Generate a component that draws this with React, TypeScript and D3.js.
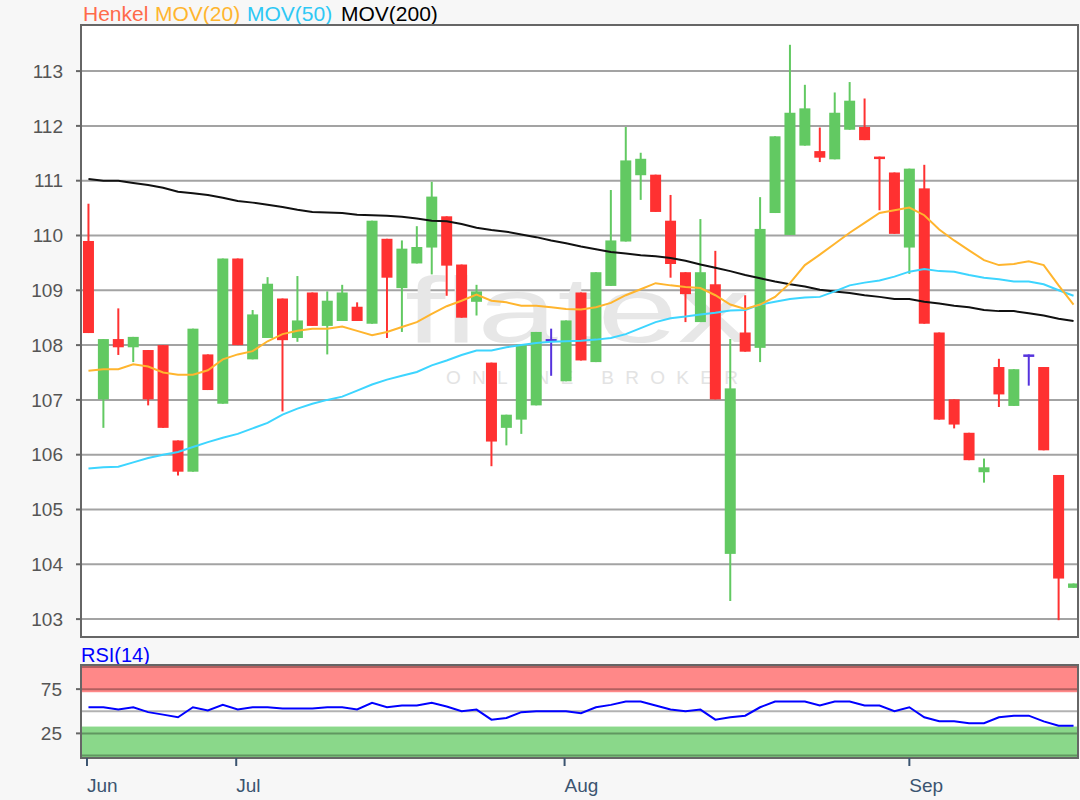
import React from 'react';
import * as d3 from 'd3';

// ---- Data ----
const opens = [109.90,107.01,108.11,107.96,107.91,108.00,106.26,105.69,107.83,106.93,109.58,107.74,108.13,108.85,108.13,108.96,108.35,108.44,108.70,108.39,109.94,109.04,109.49,109.78,110.35,109.47,108.79,107.68,106.49,106.64,106.90,108.11,107.34,108.96,107.69,109.08,109.89,111.10,111.11,110.27,109.33,108.42,109.11,104.19,108.23,107.95,110.41,110.01,111.64,111.54,111.39,111.93,111.98,111.44,111.15,109.78,110.86,108.23,107.01,106.40,105.68,107.60,106.89,107.83,107.60,105.63,103.57];
const highs = [110.58,108.11,108.67,108.15,107.91,108.00,106.26,108.30,107.83,109.58,109.58,108.64,109.24,108.85,109.26,108.96,108.98,109.10,108.78,110.27,109.94,109.91,110.17,110.98,110.35,109.47,109.10,107.68,106.73,108.01,108.24,108.30,108.45,108.96,109.33,110.83,111.98,111.51,111.11,110.74,109.33,110.30,109.72,108.11,108.91,110.70,111.81,113.48,112.75,111.97,112.61,112.80,112.50,111.44,111.15,111.22,111.29,108.23,107.01,106.40,105.93,107.75,107.56,107.83,107.60,105.63,103.65];
const lows = [108.22,106.49,107.82,107.69,106.90,106.49,105.62,105.69,107.18,106.93,108.00,107.74,108.13,106.79,108.06,108.35,107.83,108.44,108.44,108.39,108.13,108.24,109.49,109.29,108.90,108.50,108.54,105.79,106.17,106.38,106.90,107.44,107.34,107.72,107.69,109.08,109.89,110.65,110.43,109.23,108.42,108.42,107.01,103.33,107.88,107.69,110.41,110.01,111.64,111.34,111.39,111.93,111.74,110.46,110.03,109.30,108.39,106.64,106.48,105.90,105.49,106.87,106.89,107.26,106.08,102.98,103.57];
const closes = [108.22,108.11,107.96,108.15,107.01,106.49,105.69,108.30,107.18,109.58,108.00,108.56,109.12,108.09,108.45,108.35,108.81,108.96,108.44,110.27,109.23,109.76,109.79,110.71,109.45,108.50,108.98,106.24,106.73,108.01,108.24,108.11,108.45,107.72,109.33,109.91,111.37,111.40,110.43,109.48,108.93,109.33,107.01,107.21,107.88,110.12,111.81,112.24,112.32,111.42,112.24,112.46,111.74,111.40,110.03,111.22,108.39,106.64,106.55,105.90,105.77,107.10,107.56,107.83,106.08,103.74,103.65];

const mov20 = [107.53,107.56,107.56,107.65,107.61,107.50,107.46,107.46,107.54,107.74,107.83,107.89,108.07,108.20,108.26,108.30,108.30,108.34,108.26,108.18,108.24,108.33,108.42,108.57,108.71,108.81,108.92,108.81,108.78,108.72,108.72,108.69,108.66,108.65,108.69,108.77,108.91,109.02,109.13,109.09,109.06,109.04,108.91,108.74,108.66,108.74,108.88,109.13,109.46,109.65,109.85,110.05,110.23,110.41,110.46,110.51,110.37,110.11,109.91,109.73,109.55,109.46,109.48,109.53,109.46,109.09,108.74];
const mov50 = [105.75,105.77,105.78,105.86,105.94,106.00,106.05,106.14,106.23,106.31,106.38,106.48,106.58,106.73,106.84,106.93,107.00,107.06,107.17,107.28,107.37,107.44,107.51,107.63,107.72,107.82,107.90,107.90,107.96,108.00,108.04,108.06,108.07,108.08,108.10,108.13,108.20,108.31,108.42,108.49,108.52,108.56,108.59,108.63,108.64,108.74,108.79,108.84,108.87,108.88,108.98,109.09,109.14,109.18,109.25,109.34,109.39,109.35,109.34,109.28,109.23,109.20,109.16,109.16,109.11,109.00,108.90];
const mov200 = [111.03,111.00,111.00,110.96,110.92,110.87,110.80,110.77,110.74,110.69,110.63,110.60,110.56,110.52,110.47,110.43,110.42,110.41,110.38,110.37,110.36,110.34,110.31,110.27,110.26,110.21,110.14,110.10,110.07,110.02,109.97,109.91,109.86,109.80,109.75,109.70,109.67,109.64,109.62,109.59,109.54,109.47,109.41,109.35,109.28,109.22,109.16,109.11,109.07,109.01,108.98,108.95,108.91,108.88,108.84,108.84,108.79,108.76,108.72,108.69,108.64,108.62,108.62,108.58,108.54,108.48,108.44];
const rsi14 = [54.5,54.5,52,54.5,49,46.2,43.2,54.5,51,57.2,52,54.5,54.5,53,53,53,54.5,54.5,52,59.5,54.5,56.4,56.4,59.5,55.3,50,51.9,40.5,42.4,49,50,50,50,47.7,54.5,57.2,61,61,56.4,51.9,50,51.9,40.5,43.2,45,54.5,61,61,61,56.4,61,61,56.4,56.4,50,54.5,43.2,38.6,38.6,36.4,36.4,43.2,45,45,38.6,33.7,33.7];

const priceTicks = [103,104,105,106,107,108,109,110,111,112,113];
const rsiTicks = [25,75];
const rsiGrid = [0,25,50,75,100];
const monthLabels = ['Jun','Jul','Aug','Sep'];
const monthTickPos = [-0.1, 9.9, 31.9, 55];
const rsiBands = { upper: [71.5, 103], lower: [-3, 32.7] };
const legendItems = ['Henkel', 'MOV(20)', 'MOV(50)', 'MOV(200)'];
const legendColors = ['#ff6a4a', '#ffb52e', '#2ec8f5', '#000000'];

const FONT = "'Liberation Sans', Arial, sans-serif";

export default function App() {
  const n = closes.length;
  const idx = d3.range(n);

  // Main panel
  const L = 81, R = 1078, T = 25, B = 637;
  const x = d3.scaleBand<number>().domain(idx).range([81, 1081]);
  const cx = (i: number) => (x(i) as number) + x.bandwidth() / 2;
  const y = d3.scaleLinear().domain([103, 113]).range([619.1, 71.1]);
  const xLin = d3.scaleLinear().domain([0, n - 1]).range([cx(0), cx(n - 1)]);

  // RSI panel
  const RT = 665, RB = 758;
  const ry = d3.scaleLinear().domain([0, 100]).range([755.5, 667]);

  const maLine = d3.line<number>().x((_, i) => cx(i)).y((v) => y(v));
  const rsiLine = d3.line<number>().x((_, i) => cx(i)).y((v) => ry(v));

  const colorOf = (o: number, c: number) => (c > o ? '#62c962' : c < o ? '#ff3131' : '#5533dd');
  const bodyW = 11;

  // legend x positions laid out left to right
  const legendX = [83, 155, 247, 341];

  return (
    <svg width={1080} height={800} style={{ position: 'absolute', left: 0, top: 0, fontFamily: FONT }}>
      <defs>
        <clipPath id="mainClip">
          <rect x={L} y={T} width={R - L} height={B - T} />
        </clipPath>
        <clipPath id="rsiClip">
          <rect x={L} y={RT} width={R - L} height={RB - RT} />
        </clipPath>
      </defs>
      <rect x={0} y={0} width={1080} height={800} fill="#f7f7f7" />

      {/* Legend */}
      {legendItems.map((t, k) => (
        <text key={t} x={legendX[k]} y={21} fontSize={21} fill={legendColors[k]}>{t}</text>
      ))}

      {/* Main panel */}
      <rect x={L} y={T} width={R - L} height={B - T} fill="#fff" />
      {priceTicks.map((t) => (
        <g key={t}>
          <line x1={L} x2={R} y1={y(t)} y2={y(t)} stroke="#a3a3a3" strokeWidth={2} />
          <line x1={76} x2={L} y1={y(t)} y2={y(t)} stroke="#666" strokeWidth={2} />
          <text x={63} y={y(t)} dy="0.35em" textAnchor="end" fontSize={19} fill="#555">{t}</text>
        </g>
      ))}

      {/* Watermark */}
      <text x={405} y={342} fontSize={92} fill="#e7e7e7" textLength={345} lengthAdjust="spacingAndGlyphs">flatex</text>
      <text x={446} y={384} fontSize={19} fill="#e3e3e3" textLength={292} lengthAdjust="spacing">ONLINE BROKER</text>

      <g clipPath="url(#mainClip)">
        {idx.map((i) => {
          const o = opens[i], c = closes[i], h = highs[i], l = lows[i];
          const col = colorOf(o, c);
          const top = y(Math.max(o, c));
          const hgt = Math.max(2.5, Math.abs(y(o) - y(c)));
          return (
            <g key={i}>
              <line x1={cx(i)} x2={cx(i)} y1={y(h)} y2={y(l)} stroke={col} strokeWidth={2} />
              <rect x={cx(i) - bodyW / 2} y={top} width={bodyW} height={hgt} fill={col} />
            </g>
          );
        })}
        <path d={maLine(mov200) || ''} fill="none" stroke="#111" strokeWidth={2} />
        <path d={maLine(mov50) || ''} fill="none" stroke="#3dd5ff" strokeWidth={2} />
        <path d={maLine(mov20) || ''} fill="none" stroke="#ffb52e" strokeWidth={2} />
      </g>
      <rect x={L} y={T} width={R - L} height={B - T} fill="none" stroke="#666" strokeWidth={2} />

      {/* RSI panel */}
      <text x={81} y={662} fontSize={20} fill="#0000ff">RSI(14)</text>
      <rect x={L} y={RT} width={R - L} height={RB - RT} fill="#fff" />
      <g clipPath="url(#rsiClip)">
        <rect x={L} y={ry(rsiBands.upper[1])} width={R - L} height={ry(rsiBands.upper[0]) - ry(rsiBands.upper[1])} fill="#ff8888" />
        <rect x={L} y={ry(rsiBands.lower[1])} width={R - L} height={ry(rsiBands.lower[0]) - ry(rsiBands.lower[1])} fill="#8ad88a" />
        {rsiGrid.map((t) => (
          <line key={t} x1={L} x2={R} y1={ry(t)} y2={ry(t)} stroke="rgba(0,0,0,0.3)" strokeWidth={2} />
        ))}
        <path d={rsiLine(rsi14) || ''} fill="none" stroke="#0000ff" strokeWidth={2} />
      </g>
      {rsiTicks.map((t) => (
        <g key={t}>
          <line x1={76} x2={L} y1={ry(t)} y2={ry(t)} stroke="#666" strokeWidth={2} />
          <text x={62} y={ry(t)} dy="0.35em" textAnchor="end" fontSize={19} fill="#555">{t}</text>
        </g>
      ))}
      <rect x={L} y={RT} width={R - L} height={RB - RT} fill="none" stroke="#666" strokeWidth={2} />

      {/* Month axis */}
      {monthLabels.map((m, k) => (
        <g key={m}>
          <line x1={xLin(monthTickPos[k])} x2={xLin(monthTickPos[k])} y1={RB} y2={RB + 8} stroke="#3b5470" strokeWidth={2} />
          <text x={xLin(monthTickPos[k])} y={792} fontSize={19} fill="#3b5470">{m}</text>
        </g>
      ))}
    </svg>
  );
}
